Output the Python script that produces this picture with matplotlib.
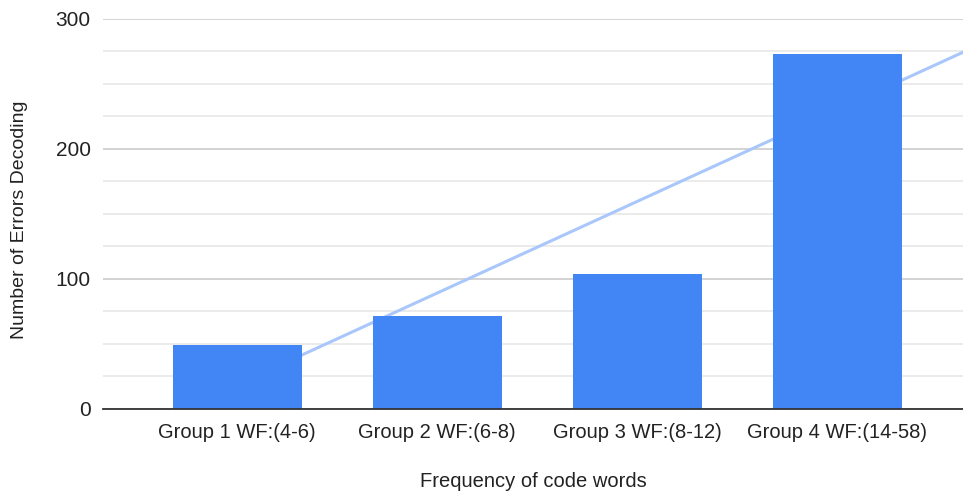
import numpy as np
import matplotlib
matplotlib.use("Agg")
import matplotlib.pyplot as plt
from matplotlib.ticker import MultipleLocator

plt.rcParams['font.family'] = ['Liberation Sans', 'DejaVu Sans']

groups = ["Group 1 WF:(4-6)", "Group 2 WF:(6-8)", "Group 3 WF:(8-12)", "Group 4 WF:(14-58)"]
errors = [49, 71.5, 104, 273]

x = np.arange(len(groups))

fig = plt.figure(figsize=(9.63, 4.92), dpi=100)
ax = fig.add_axes([0.107, 0.1687, 0.893, 0.7927])

ax.bar(x, errors, width=0.645, color='#4285f4', zorder=3)

# linear trendline over the whole plot width
a, b = np.polyfit(x, errors, 1)
xl = np.array([-0.7, 3.7])
ax.plot(xl, a * xl + b, color='#a9c7fa', lw=2.2, zorder=2, solid_capstyle='butt')

ax.set_xlim(-0.67, 3.63)
ax.set_ylim(0, 300)
ax.yaxis.set_major_locator(MultipleLocator(100))
ax.yaxis.set_minor_locator(MultipleLocator(25))
ax.grid(axis='y', which='major', color='#cccccc', lw=1.2, zorder=0)
ax.grid(axis='y', which='minor', color='#e8e8e8', lw=1.2, zorder=0)
ax.set_axisbelow(True)

for s in ['top', 'right', 'left']:
    ax.spines[s].set_visible(False)
ax.spines['bottom'].set_color('#333333')
ax.spines['bottom'].set_linewidth(1.3)
ax.spines['bottom'].set_zorder(4)

ax.set_xticks(x)
ax.set_xticklabels(groups)
ax.tick_params(axis='both', which='both', length=0, colors='#222222')
ax.tick_params(axis='x', pad=10, labelsize=14.5)
ax.tick_params(axis='y', pad=9, labelsize=15)

ax.set_xlabel("Frequency of code words", fontsize=14.5, color='#222222', labelpad=22)
ax.set_ylabel("Number of Errors Decoding", fontsize=14, color='#222222', labelpad=20)
ax.yaxis.label.set_y(0.485)

fig.savefig("out.png", dpi=100)
